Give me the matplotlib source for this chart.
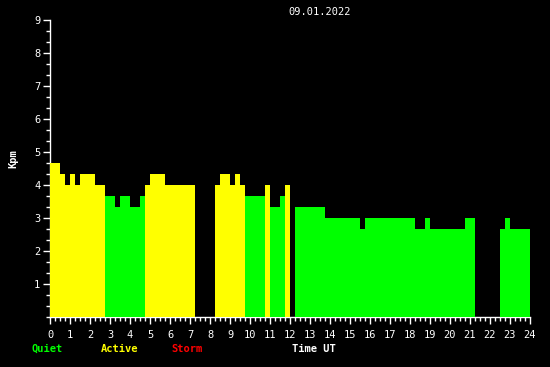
import numpy as np
import matplotlib
matplotlib.use("Agg")
import matplotlib.pyplot as plt
from matplotlib.ticker import MultipleLocator

# 15-minute Kpm values (NaN = no data)
t = 1.0 / 3.0
kpm = [
    4+2*t, 4+2*t, 4+t, 4, 4+t, 4, 4+t, 4+t, 4+t, 4, 4,            # 0 - 2.75
    3+2*t, 3+2*t, 3+t, 3+2*t, 3+2*t, 3+t, 3+t, 3+2*t,             # 2.75 - 4.75
    4, 4+t, 4+t, 4+t, 4, 4, 4, 4, 4, 4,                           # 4.75 - 7.25
    np.nan, np.nan, np.nan, np.nan,                               # 7.25 - 8.25
    4, 4+t, 4+t, 4, 4+t, 4,                                       # 8.25 - 9.75
    3+2*t, 3+2*t, 3+2*t, 3+2*t, 4, 3+t, 3+t, 3+2*t, 4,            # 9.75 - 12
    np.nan,                                                       # 12 - 12.25
    3+t, 3+t, 3+t, 3+t, 3+t, 3+t,                                 # 12.25 - 13.75
    3, 3, 3, 3, 3, 3, 3, 2+2*t,                                   # 13.75 - 15.75
    3, 3, 3, 3, 3, 3, 3, 3, 3, 3,                                 # 15.75 - 18.25
    2+2*t, 2+2*t, 3,                                              # 18.25 - 19
    2+2*t, 2+2*t, 2+2*t, 2+2*t, 2+2*t, 2+2*t, 2+2*t, 3, 3,        # 19 - 21.25
    np.nan, np.nan, np.nan, np.nan, np.nan,                       # 21.25 - 22.5
    2+2*t, 3, 2+2*t, 2+2*t, 2+2*t, 2+2*t,                         # 22.5 - 24
]
times = np.arange(len(kpm)) * 0.25
date_label = "09.01.2022"
hour_ticks = list(range(0, 25))
kp_ticks = list(range(1, 10))

def color_for(v):
    if v >= 5:
        return "#ff0000"
    if v >= 4:
        return "#ffff00"
    return "#00ff00"

font = "DejaVu Sans Mono"
fs = 7.5

fig = plt.figure(figsize=(5.5, 3.67), dpi=100, facecolor="black")
ax = fig.add_axes([50/550, 50/367, 480/550, 297/367])
ax.set_facecolor("black")

vals = np.array(kpm, dtype=float)
mask = ~np.isnan(vals)
ax.bar(times[mask], vals[mask], width=0.25, align="edge",
       color=[color_for(v) for v in vals[mask]], linewidth=0, zorder=3)

ax.set_xlim(0, 24)
ax.set_ylim(0, 9)
for s in ["top", "right"]:
    ax.spines[s].set_visible(False)
for s in ["left", "bottom"]:
    ax.spines[s].set_color("white")
    ax.spines[s].set_linewidth(1.0)
    ax.spines[s].set_zorder(1)

ax.set_xticks(hour_ticks)
ax.set_xticklabels([str(h) for h in hour_ticks], fontfamily=font, fontsize=fs)
ax.xaxis.set_minor_locator(MultipleLocator(0.25))
ax.set_yticks(kp_ticks)
ax.set_yticklabels([str(k) for k in kp_ticks], fontfamily=font, fontsize=fs)
ax.yaxis.set_minor_locator(MultipleLocator(1/3))
ax.tick_params(axis="both", which="major", colors="white", length=5, width=1, pad=2)
ax.tick_params(axis="x", which="major", pad=4)
ax.tick_params(axis="both", which="minor", colors="white", length=3, width=1)

fig.text(13/550, 1 - 159/367, "Kpm", rotation=90, color="white", fontfamily=font,
         fontsize=fs, fontweight="bold", ha="center", va="center")
fig.text(320/550, 1 - 12/367, date_label, color="white", fontfamily=font,
         fontsize=fs, ha="center", va="center")
fig.text(47/550, 1 - 349/367, "Quiet", color="#00ff00", fontfamily=font,
         fontsize=fs, fontweight="bold", ha="center", va="center")
fig.text(120/550, 1 - 349/367, "Active", color="#ffff00", fontfamily=font,
         fontsize=fs, fontweight="bold", ha="center", va="center")
fig.text(187/550, 1 - 349/367, "Storm", color="#ff0000", fontfamily=font,
         fontsize=fs, fontweight="bold", ha="center", va="center")
fig.text(314/550, 1 - 349/367, "Time UT", color="white", fontfamily=font,
         fontsize=fs, fontweight="bold", ha="center", va="center")

fig.savefig("out.png", dpi=100, facecolor="black")
